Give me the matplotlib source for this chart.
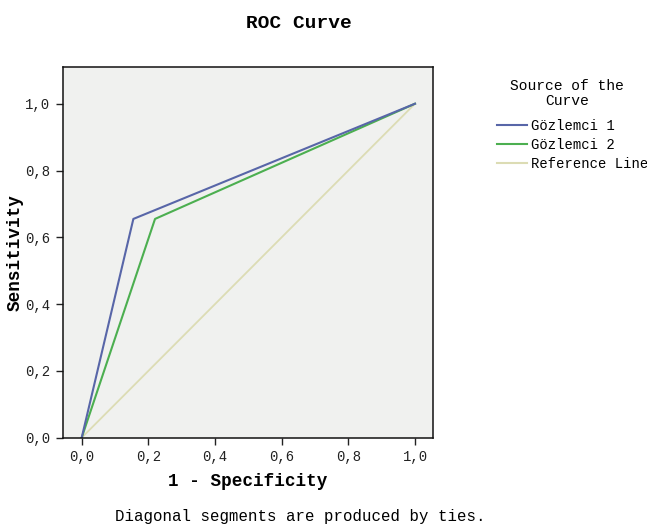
import matplotlib
matplotlib.use("Agg")
import matplotlib.pyplot as plt
from matplotlib.lines import Line2D
from matplotlib.ticker import FuncFormatter

plt.rcParams['font.family'] = ['Liberation Mono', 'DejaVu Sans Mono']

# Data
obs1_fpr = [0.0, 0.155, 1.0]
obs1_tpr = [0.0, 0.655, 1.0]
obs2_fpr = [0.0, 0.22, 1.0]
obs2_tpr = [0.0, 0.655, 1.0]
ref_x = [0.0, 1.0]
ref_y = [0.0, 1.0]
series_names = ["Gözlemci 1", "Gözlemci 2", "Reference Line"]
ticks = [0.0, 0.2, 0.4, 0.6, 0.8, 1.0]

W, H = 647, 524
fig = plt.figure(figsize=(W/100, H/100), dpi=100)
fig.patch.set_facecolor('white')

l, r, t, b = 62.7, 433, 67.3, 437.7
ax = fig.add_axes([l/W, 1-b/H, (r-l)/W, (b-t)/H])
ax.set_facecolor('#f0f1ef')

c1, c2, c3 = '#5866a8', '#4caf50', '#dcdcb4'
ax.plot(ref_x, ref_y, color=c3, lw=1.3)
ax.plot(obs2_fpr, obs2_tpr, color=c2, lw=1.5)
ax.plot(obs1_fpr, obs1_tpr, color=c1, lw=1.5)

ax.set_xlim(-0.057, 1.054)
ax.set_ylim(0.0, 1.109)
ax.set_xticks(ticks)
ax.set_yticks(ticks)
fmt = FuncFormatter(lambda v, p: f"{v:.1f}".replace('.', ','))
ax.xaxis.set_major_formatter(fmt)
ax.yaxis.set_major_formatter(fmt)
ax.tick_params(direction='out', length=5, width=1, labelsize=10, colors='#222222', pad=4)
for s in ax.spines.values():
    s.set_linewidth(1.1)
    s.set_color('#111111')

ax.set_xlabel("1 - Specificity", fontsize=12.7, fontweight='bold', labelpad=6)
ax.set_ylabel("Sensitivity", fontsize=12.7, fontweight='bold', labelpad=1)

fig.text(299/W, 1-23/H, "ROC Curve", ha='center', va='center', fontsize=14, fontweight='bold')
fig.text(300/W, 1-516/H, "Diagonal segments are produced by ties.", ha='center', va='center', fontsize=11.3)

fig.text(567/W, 1-86.5/H, "Source of the", ha='center', va='center', fontsize=10.5)
fig.text(567/W, 1-101/H, "Curve", ha='center', va='center', fontsize=10.5)

handles = [Line2D([], [], color=c1, lw=1.5), Line2D([], [], color=c2, lw=1.5), Line2D([], [], color=c3, lw=1.5)]
leg = fig.legend(handles, series_names, loc='upper left', bbox_to_anchor=(497/W, 1-119/H),
                 frameon=False, fontsize=10, handlelength=2.15, handletextpad=0.3, labelspacing=0.37,
                 borderaxespad=0, borderpad=0)

fig.savefig("out.png", dpi=100)
